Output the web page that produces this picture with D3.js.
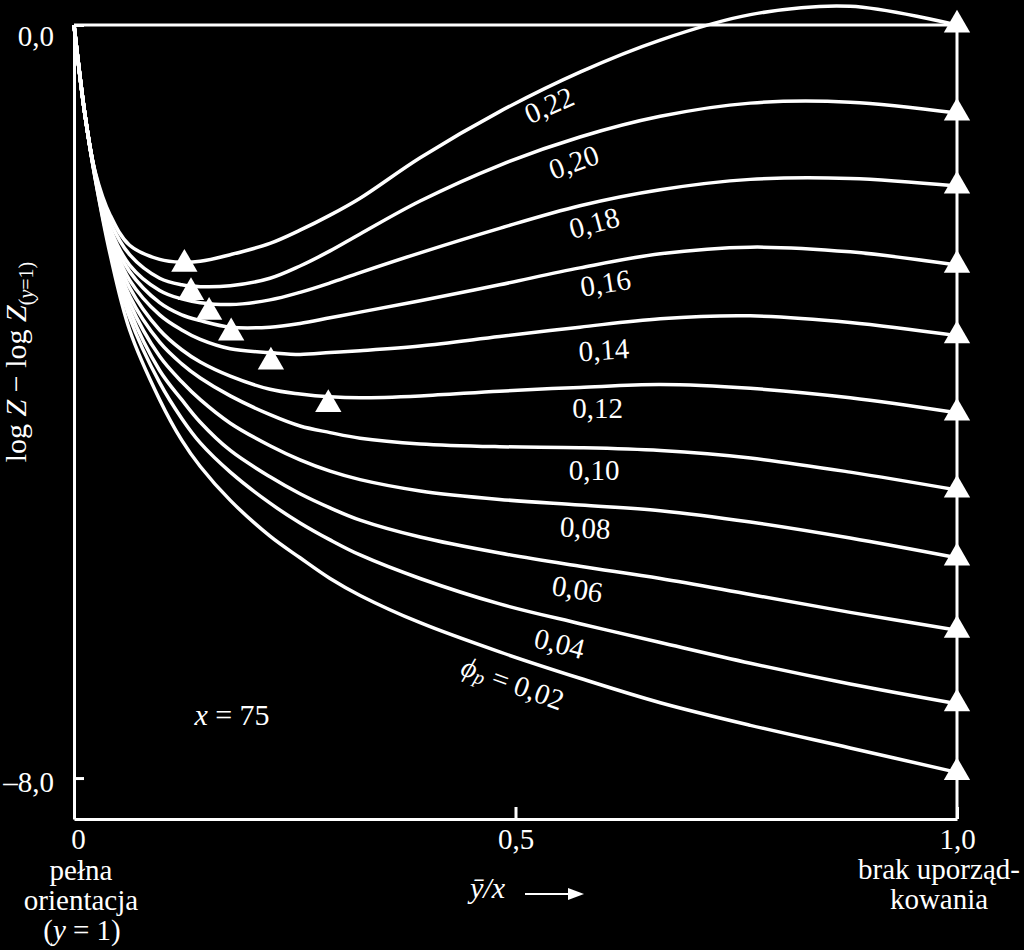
<!DOCTYPE html>
<html><head><meta charset="utf-8">
<script src="https://cdn.jsdelivr.net/npm/d3@7"></script>
<style>
html,body{margin:0;padding:0;background:#000;}
svg{display:block;background:#000;}
text{font-family:"Liberation Serif","Times New Roman",serif;fill:#fff;}
</style></head><body>
<svg id="chart" width="1024" height="950"></svg>
<script>
// ---- data ----
const xValues = [0, 0.0125, 0.024, 0.041, 0.063, 0.097, 0.122, 0.143, 0.177, 0.222, 0.256, 0.29, 0.324, 0.392, 0.482, 0.573, 0.664, 0.766, 0.879, 1.0];
const phi022 = [0, -0.96, -1.56, -2.02, -2.34, -2.49, -2.52, -2.51, -2.44, -2.32, -2.18, -2.02, -1.84, -1.41, -0.92, -0.5, -0.16, 0.11, 0.2, 0];
const phi020 = [0, -0.96, -1.57, -2.09, -2.44, -2.69, -2.76, -2.78, -2.77, -2.69, -2.56, -2.4, -2.22, -1.87, -1.49, -1.19, -0.97, -0.83, -0.82, -0.935];
const phi018 = [0, -0.96, -1.58, -2.16, -2.55, -2.82, -2.91, -2.95, -2.97, -2.92, -2.84, -2.74, -2.63, -2.42, -2.16, -1.92, -1.75, -1.64, -1.63, -1.71];
const phi016 = [0, -0.96, -1.59, -2.2, -2.62, -2.95, -3.08, -3.14, -3.21, -3.21, -3.17, -3.11, -3.05, -2.93, -2.76, -2.58, -2.43, -2.36, -2.41, -2.55];
const phi014 = [0, -0.96, -1.59, -2.23, -2.71, -3.08, -3.24, -3.34, -3.44, -3.48, -3.5, -3.48, -3.46, -3.41, -3.31, -3.21, -3.12, -3.09, -3.16, -3.3];
const phi012 = [0, -0.96, -1.6, -2.26, -2.79, -3.24, -3.45, -3.58, -3.73, -3.87, -3.92, -3.95, -3.96, -3.94, -3.89, -3.85, -3.82, -3.86, -3.96, -4.12];
const phi010 = [0, -0.96, -1.6, -2.28, -2.88, -3.37, -3.6, -3.75, -3.94, -4.14, -4.26, -4.33, -4.39, -4.45, -4.48, -4.49, -4.52, -4.6, -4.75, -4.94];
const phi008 = [0, -0.96, -1.61, -2.32, -2.95, -3.52, -3.79, -3.98, -4.23, -4.47, -4.62, -4.74, -4.83, -4.95, -5.04, -5.1, -5.16, -5.28, -5.45, -5.66];
const phi006 = [0, -0.96, -1.61, -2.35, -3.03, -3.67, -3.98, -4.22, -4.52, -4.8, -4.98, -5.13, -5.26, -5.44, -5.61, -5.75, -5.88, -6.05, -6.24, -6.43];
const phi004 = [0, -0.96, -1.63, -2.39, -3.11, -3.8, -4.18, -4.44, -4.75, -5.08, -5.29, -5.47, -5.63, -5.88, -6.15, -6.36, -6.56, -6.78, -7.0, -7.21];
const phi002 = [0, -0.96, -1.63, -2.44, -3.24, -3.98, -4.41, -4.69, -5.05, -5.43, -5.66, -5.88, -6.06, -6.35, -6.66, -6.94, -7.2, -7.44, -7.68, -7.94];

const seriesNames = ["0,22","0,20","0,18","0,16","0,14","0,12","0,10","0,08","0,06","0,04","0,02"];
const seriesValues = [phi022, phi020, phi018, phi016, phi014, phi012, phi010, phi008, phi006, phi004, phi002];

// minima markers (phi 0.22 .. 0.12)
const minX = [0.125, 0.1325, 0.153, 0.178, 0.223, 0.288];
const minY = [-2.54, -2.84, -3.05, -3.27, -3.58, -4.03];

// curve label anchors (data coords) and angles
const labelX = [0.538, 0.566, 0.589, 0.602, 0.600, 0.593, 0.589, 0.579, 0.570, 0.550, 0.497];
const labelY = [-0.85, -1.455, -2.10, -2.74, -3.45, -4.07, -4.73, -5.34, -5.99, -6.57, -6.99];
const labelAngle = [-24, -20, -15, -9, -4, 0, 0, 3, 9, 14, 20];

const yTicks = [0, -8];
const yTickLabels = ["0,0", "–8,0"];
const xTicks = [0, 0.5, 1];
const xTickLabels = ["0", "0,5", "1,0"];

// ---- drawing ----
const svg = d3.select("#chart");
const x = d3.scaleLinear().domain([0, 1]).range([74, 957]);
const y = d3.scaleLinear().domain([0, -8.435]).range([25, 819]);
const W = 3;
const LW = 3.5;

// left axis
const gy = svg.append("g").attr("transform", `translate(${x(0)},0)`)
  .call(d3.axisLeft(y).tickValues(yTicks).tickSize(-10).tickSizeOuter(0).tickPadding(20)
    .tickFormat((d,i)=>yTickLabels[i]));
gy.selectAll("path,line").attr("stroke","#fff").attr("stroke-width",W);
gy.selectAll("text").attr("font-size",29).attr("font-family","Liberation Serif").attr("fill","#fff")
  .attr("dy", (d)=> d===0 ? "0.72em" : "0.48em");

// bottom axis
const gx = svg.append("g").attr("transform", `translate(0,${y(-8.435)})`)
  .call(d3.axisBottom(x).tickValues(xTicks).tickSize(-12).tickSizeOuter(0).tickPadding(9)
    .tickFormat((d,i)=>xTickLabels[i]));
gx.selectAll("path,line").attr("stroke","#fff").attr("stroke-width",W);
gx.selectAll("text").attr("font-size",29).attr("font-family","Liberation Serif").attr("fill","#fff");
gx.selectAll(".tick").filter(d=>d===0).select("text").attr("x",4);

// top frame line and right vertical line
svg.append("line").attr("x1",x(0)).attr("x2",x(1)).attr("y1",y(0)).attr("y2",y(0))
  .attr("stroke","#fff").attr("stroke-width",W);
svg.append("line").attr("x1",x(1)).attr("x2",x(1)).attr("y1",y(-8.435)).attr("y2",y(0))
  .attr("stroke","#fff").attr("stroke-width",W);

// curves
const line = d3.line().x((d,i)=>x(xValues[i])).y(d=>y(d)).curve(d3.curveCatmullRom.alpha(0.5));
svg.append("g").selectAll("path").data(seriesValues).join("path")
  .attr("d", line).attr("fill","none").attr("stroke","#fff").attr("stroke-width",LW)
  .attr("stroke-linejoin","round");

// triangles
const tri = d3.symbol(d3.symbolTriangle, 300);
svg.append("g").selectAll("path").data(seriesValues).join("path")
  .attr("d", tri).attr("fill","#fff")
  .attr("transform", d=>`translate(${x(1)},${y(d[d.length-1])})`);
svg.append("g").selectAll("path").data(minX).join("path")
  .attr("d", tri).attr("fill","#fff")
  .attr("transform", (d,i)=>`translate(${x(d)},${y(minY[i])})`);

// curve labels
const lg = svg.append("g");
seriesNames.forEach((name,i)=>{
  const t = lg.append("text")
    .attr("transform",`translate(${x(labelX[i])},${y(labelY[i])}) rotate(${labelAngle[i]})`)
    .attr("text-anchor","middle").attr("dominant-baseline","central").attr("font-size",29);
  if (i === seriesNames.length-1) {
    t.append("tspan").attr("font-style","italic").text("ϕ");
    t.append("tspan").attr("font-style","italic").attr("font-size",20).attr("dy",6).text("p");
    t.append("tspan").attr("dy",-6).text(" = " + name);
  } else {
    t.text(name);
  }
});

// x = 75
const tx = svg.append("text").attr("x",232).attr("y",725).attr("text-anchor","middle").attr("font-size",30);
tx.append("tspan").attr("font-style","italic").text("x");
tx.append("tspan").text(" = 75");

// y axis title
const yt = svg.append("text").attr("transform","translate(26,362) rotate(-90)")
  .attr("text-anchor","middle").attr("font-size",30);
yt.append("tspan").text("log ");
yt.append("tspan").attr("font-style","italic").text("Z");
yt.append("tspan").text(" − log ");
yt.append("tspan").attr("font-style","italic").text("Z");
yt.append("tspan").attr("font-size",20).attr("dy",7).text("(");
yt.append("tspan").attr("font-size",20).attr("font-style","italic").text("y");
yt.append("tspan").attr("font-size",20).text("=1)");

// bottom left captions
const capL = [["pełna",880],["orientacja",910]];
capL.forEach(([s,yy])=>svg.append("text").attr("x",81).attr("y",yy).attr("text-anchor","middle").attr("font-size",29).text(s));
const c3 = svg.append("text").attr("x",82).attr("y",940).attr("text-anchor","middle").attr("font-size",29);
c3.append("tspan").text("(");
c3.append("tspan").attr("font-style","italic").text("y");
c3.append("tspan").text(" = 1)");

// bottom right captions
[["brak uporząd-",879],["kowania",909]].forEach(([s,yy])=>svg.append("text").attr("x",939).attr("y",yy).attr("text-anchor","middle").attr("font-size",29).text(s));

// x axis title with arrow
const xt = svg.append("text").attr("x",470).attr("y",898).attr("font-size",30).attr("font-style","italic");
xt.append("tspan").text("ȳ/x");
svg.append("line").attr("x1",525).attr("x2",572).attr("y1",894).attr("y2",894).attr("stroke","#fff").attr("stroke-width",2);
svg.append("path").attr("d","M568,888 L584,894 L568,900 Z").attr("fill","#fff");
</script>
</body></html>
